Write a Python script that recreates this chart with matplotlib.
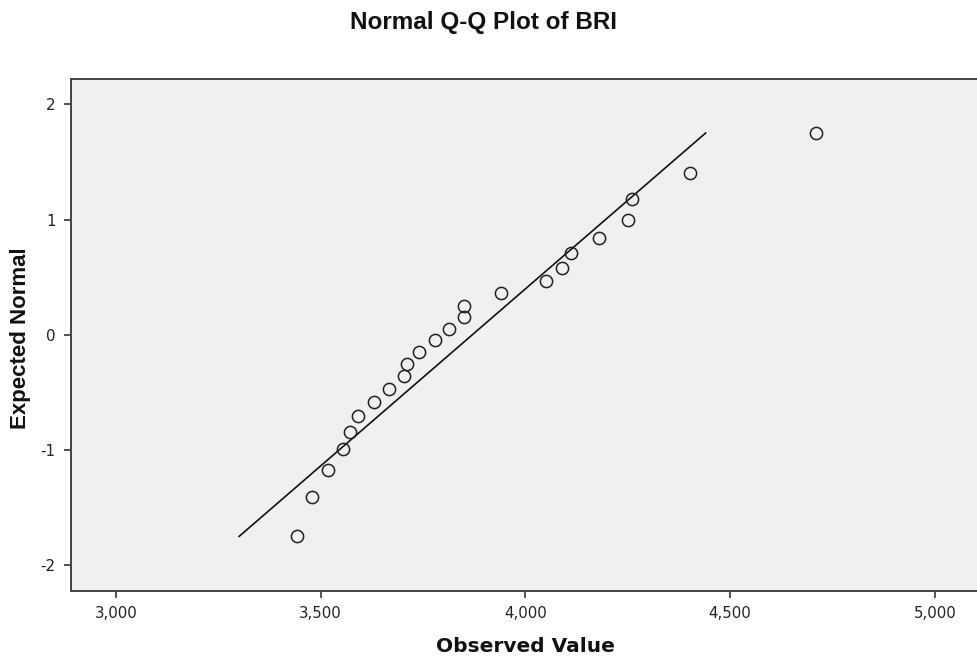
import numpy as np
import matplotlib
matplotlib.use("Agg")
import matplotlib.pyplot as plt
from matplotlib.ticker import FuncFormatter

plt.rcParams["axes.unicode_minus"] = False

# Observed values (BRI), sorted
observed = [3441, 3479, 3517, 3554, 3572, 3590, 3630, 3666, 3704, 3710,
            3741, 3778, 3814, 3850, 3850, 3940, 4051, 4090, 4111, 4180,
            4250, 4261, 4401, 4710]
# Expected normal values
expected = [-1.751, -1.405, -1.175, -0.994, -0.842, -0.706, -0.583, -0.468,
            -0.358, -0.253, -0.151, -0.050, 0.050, 0.151, 0.253, 0.358,
            0.468, 0.583, 0.706, 0.842, 0.994, 1.175, 1.405, 1.751]

x_ticks = [3000, 3500, 4000, 4500, 5000]
y_ticks = [-2, -1, 0, 1, 2]

obs = np.array(observed, dtype=float)
exp_ = np.array(expected)
mu = obs.mean()
sd = obs.std(ddof=1)
line_z = np.array([exp_.min(), exp_.max()])
line_x = mu + line_z * sd

fig = plt.figure(figsize=(9.77, 6.59), dpi=100)
ax = fig.add_axes([71/977, 1 - 591/659, (977 - 71)/977, (591 - 79)/659])
ax.set_facecolor("#f0f0f0")

ax.plot(line_x, line_z, color="#111111", lw=1.2, zorder=2)
ax.plot(obs, exp_, linestyle="none", marker="o", markersize=8.8,
        markerfacecolor="none", markeredgecolor="#222222", markeredgewidth=1.1, zorder=3)

ax.set_xlim(2890, 5103)
ax.set_ylim(-2.225, 2.22)
ax.set_xticks(x_ticks)
ax.set_yticks(y_ticks)
ax.xaxis.set_major_formatter(FuncFormatter(lambda v, p: f"{int(v):,}"))
ax.yaxis.set_major_formatter(FuncFormatter(lambda v, p: f"{int(v)}"))

for s in ["left", "bottom", "top"]:
    ax.spines[s].set_color("#444444")
    ax.spines[s].set_linewidth(1.4)
ax.spines["right"].set_visible(False)

ax.tick_params(axis="both", direction="out", length=5, width=1.3, color="#444444",
               labelsize=10.8, labelcolor="#222222", pad=6)
for lbl in ax.get_xticklabels() + ax.get_yticklabels():
    lbl.set_family("DejaVu Sans")

fig.text(484/977, 1 - 22/659, "Normal Q-Q Plot of BRI", ha="center", va="center",
         fontsize=17.5, fontweight="bold", family="Liberation Sans", color="#111111")
fig.text(525/977, 1 - 647/659, "Observed Value", ha="center", va="center",
         fontsize=14.5, fontweight="bold", family="DejaVu Sans", color="#111111")
fig.text(21/977, 1 - 338/659, "Expected Normal", ha="center", va="center", rotation=90,
         fontsize=16, fontweight="bold", family="Liberation Sans", color="#111111")

fig.savefig("out.png", dpi=100, facecolor="white")
